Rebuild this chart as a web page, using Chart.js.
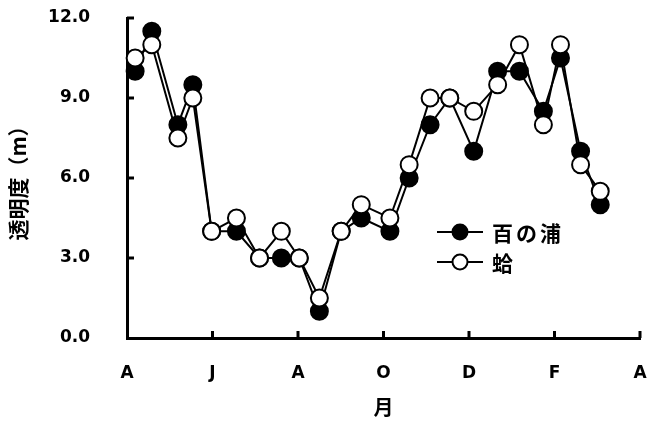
<!DOCTYPE html>
<html>
<head>
<meta charset="utf-8">
<script src="https://cdn.jsdelivr.net/npm/chart.js@4/dist/chart.umd.min.js"></script>
<style>
  html, body { margin: 0; padding: 0; background: #fff; }
  #wrap { width: 647px; height: 421px; position: relative; }
</style>
</head>
<body>
<div id="wrap"><canvas id="c" width="647" height="421"></canvas></div>
<script>
// months elapsed since 1 April (0 = April, 12 = next April)
const sampleMonths = [0.19, 0.58, 1.19, 1.54, 1.98, 2.56, 3.10, 3.61, 4.03, 4.50, 5.01, 5.48,
                      6.15, 6.60, 7.09, 7.55, 8.11, 8.67, 9.18, 9.74, 10.14, 10.61, 11.07];
// transparency (m)
const hyakunoura = [10.0, 11.5, 8.0, 9.5, 4.0, 4.0, 3.0, 3.0, 3.0, 1.0, 4.0, 4.5,
                    4.0, 6.0, 8.0, 9.0, 7.0, 10.0, 10.0, 8.5, 10.5, 7.0, 5.0];
const hamaguri   = [10.5, 11.0, 7.5, 9.0, 4.0, 4.5, 3.0, 4.0, 3.0, 1.5, 4.0, 5.0,
                    4.5, 6.5, 9.0, 9.0, 8.5, 9.5, 11.0, 8.0, 11.0, 6.5, 5.5];
const monthLabels = ['A', 'J', 'A', 'O', 'D', 'F', 'A'];
const monthTickValues = [0, 2, 4, 6, 8, 10, 12];
const yTickValues = [0, 3, 6, 9, 12];
const seriesNames = ['百の浦', '蛤'];
const yTitle = '透明度（m）';
const xTitle = '月';

const toXY = (xs, ys) => xs.map((x, i) => ({ x: x, y: ys[i] }));

const inwardTicks = {
  id: 'inwardTicks',
  afterDraw(chart) {
    const ctx = chart.ctx;
    const xs = chart.scales.x, ys = chart.scales.y;
    const a = chart.chartArea;
    ctx.save();
    ctx.strokeStyle = '#000';
    ctx.lineWidth = 3;
    yTickValues.forEach(v => {
      if (v === 0) return;
      const py = ys.getPixelForValue(v);
      ctx.beginPath(); ctx.moveTo(a.left, py); ctx.lineTo(a.left + 7, py); ctx.stroke();
    });
    monthTickValues.forEach(v => {
      if (v === 0) return;
      const px = xs.getPixelForValue(v);
      ctx.beginPath(); ctx.moveTo(px, a.bottom); ctx.lineTo(px, a.bottom - 7); ctx.stroke();
    });
    ctx.restore();
  }
};

const customLegend = {
  id: 'customLegend',
  afterDraw(chart) {
    const ctx = chart.ctx;
    const x0 = 437, x1 = 483, xm = 460, tx = 492;
    const rows = [232, 262];
    ctx.save();
    chart.data.datasets.forEach((ds, i) => {
      const y = rows[i];
      ctx.strokeStyle = ds.borderColor;
      ctx.lineWidth = 2;
      ctx.beginPath(); ctx.moveTo(x0, y); ctx.lineTo(x1, y); ctx.stroke();
      ctx.beginPath(); ctx.arc(xm, y, 7.5, 0, Math.PI * 2);
      ctx.fillStyle = ds.pointBackgroundColor; ctx.fill();
      ctx.lineWidth = 2; ctx.strokeStyle = ds.pointBorderColor; ctx.stroke();
      ctx.fillStyle = '#000';
      ctx.font = 'bold 21px "Noto Sans CJK JP"';
      try { ctx.letterSpacing = '3px'; } catch (e) {}
      ctx.textBaseline = 'middle';
      ctx.textAlign = 'left';
      ctx.fillText(ds.label, tx, y + 1);
    });
    ctx.restore();
  }
};

function zeroPad(s) { s.paddingTop = 0; s.paddingBottom = 0; s.paddingLeft = 0; s.paddingRight = 0; }

new Chart(document.getElementById('c'), {
  type: 'line',
  data: {
    datasets: [
      {
        label: seriesNames[0],
        data: toXY(sampleMonths, hyakunoura),
        borderColor: '#000', borderWidth: 2,
        pointBackgroundColor: '#000', pointBorderColor: '#000',
        pointRadius: 8.5, pointBorderWidth: 2,
        tension: 0, order: 1, clip: false
      },
      {
        label: seriesNames[1],
        data: toXY(sampleMonths, hamaguri),
        borderColor: '#000', borderWidth: 2,
        pointBackgroundColor: '#fff', pointBorderColor: '#000',
        pointRadius: 8.5, pointBorderWidth: 2,
        tension: 0, order: 0, clip: false
      }
    ]
  },
  options: {
    responsive: false,
    animation: false,
    devicePixelRatio: 1,
    layout: { autoPadding: false, padding: { top: 18, right: 7, left: 0, bottom: 0 } },
    plugins: { legend: { display: false }, tooltip: { enabled: false } },
    scales: {
      x: {
        type: 'linear', min: 0, max: 12,
        afterBuildTicks(s) { s.ticks = monthTickValues.map(v => ({ value: v })); },
        afterFit(s) { s.height = 83; zeroPad(s); },
        grid: { display: false, drawTicks: false },
        border: { display: true, color: '#000', width: 3 },
        ticks: {
          padding: 25, color: '#000',
          font: { family: '"DejaVu Sans"', weight: 'bold', size: 17 },
          callback: (v) => monthLabels[monthTickValues.indexOf(v)],
          maxRotation: 0, autoSkip: false
        },
        title: {
          display: true, text: xTitle, color: '#000',
          font: { family: '"Noto Sans CJK JP"', weight: 'bold', size: 20 },
          padding: { top: 4, bottom: 2 }
        }
      },
      y: {
        type: 'linear', min: 0, max: 12,
        afterBuildTicks(s) { s.ticks = yTickValues.map(v => ({ value: v })); },
        afterFit(s) { s.width = 127; zeroPad(s); },
        grid: { display: false, drawTicks: false },
        border: { display: true, color: '#000', width: 3 },
        ticks: {
          padding: 37, color: '#000',
          font: { family: '"DejaVu Sans"', weight: 'bold', size: 17 },
          callback: (v) => v.toFixed(1)
        },
        title: {
          display: true, text: yTitle, color: '#000',
          font: { family: '"Noto Sans CJK JP"', weight: 'bold', size: 21 },
          padding: { top: 5, bottom: 0 }
        }
      }
    }
  },
  plugins: [inwardTicks, customLegend]
});
</script>
</body>
</html>
